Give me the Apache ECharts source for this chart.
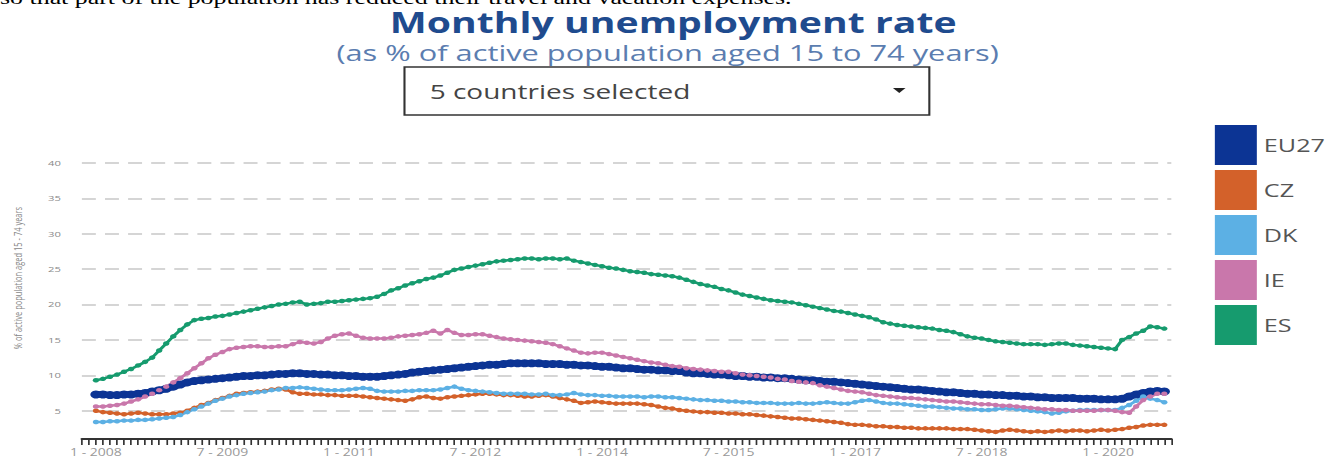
<!DOCTYPE html>
<html><head><meta charset="utf-8">
<script src="https://cdn.jsdelivr.net/npm/echarts@6/dist/echarts.min.js"></script>
<style>
html,body{margin:0;padding:0;background:#fff;overflow:hidden;width:1331px;height:461px}
#chart{width:951px;height:461px;transform:scaleX(1.3996);transform-origin:0 0}
</style></head><body><div id="chart"></div>
<script>
// ---- data ----
const seriesNames = ['EU27', 'CZ', 'DK', 'IE', 'ES'];
const startYear = 2008;
const monthCount = 153; // Jan 2008 .. Sep 2020
const xTickIndex = [0, 18, 36, 54, 72, 90, 108, 126, 144];
const xTickLabels = ['1 - 2008', '7 - 2009', '1 - 2011', '7 - 2012', '1 - 2014', '7 - 2015', '1 - 2017', '7 - 2018', '1 - 2020'];
const yTickValues = [5, 10, 15, 20, 25, 30, 35, 40];

const EU27 = [
 7.3,7.3,7.2,7.2,7.3,7.3,7.4,7.5,7.7,7.9,8.1,8.4,
 8.7,9.0,9.2,9.3,9.4,9.5,9.6,9.7,9.8,9.9,9.9,10.0,
 10.0,10.1,10.2,10.2,10.3,10.3,10.2,10.2,10.1,10.1,10.0,10.0,
 9.9,9.9,9.8,9.8,9.8,9.9,10.0,10.1,10.2,10.4,10.5,10.6,
 10.7,10.8,10.9,11.0,11.1,11.2,11.3,11.4,11.5,11.5,11.6,11.7,
 11.7,11.7,11.7,11.7,11.6,11.6,11.6,11.5,11.5,11.4,11.4,11.3,
 11.2,11.2,11.1,11.0,11.0,10.9,10.8,10.8,10.7,10.7,10.6,10.6,
 10.4,10.3,10.3,10.2,10.1,10.1,10.0,9.9,9.9,9.8,9.8,9.7,
 9.7,9.6,9.6,9.5,9.4,9.3,9.3,9.2,9.1,9.1,9.0,8.9,
 8.8,8.7,8.6,8.5,8.4,8.3,8.2,8.1,8.0,8.0,7.9,7.8,
 7.7,7.6,7.6,7.5,7.4,7.4,7.3,7.3,7.2,7.2,7.1,7.1,
 7.0,7.0,6.9,6.9,6.8,6.8,6.8,6.8,6.7,6.7,6.7,6.6,
 6.6,6.6,6.7,7.0,7.3,7.5,7.7,7.8,7.7
];
const CZ = [
 5.0,4.8,4.7,4.6,4.5,4.6,4.7,4.6,4.5,4.5,4.5,4.6,
 4.7,5.0,5.4,5.8,6.1,6.5,6.8,7.1,7.4,7.5,7.6,7.7,
 7.8,8.0,8.1,8.0,7.6,7.4,7.4,7.3,7.3,7.2,7.2,7.1,
 7.1,7.1,7.0,6.9,6.8,6.7,6.6,6.5,6.4,6.6,6.9,7.0,
 6.8,6.7,6.9,7.0,7.1,7.2,7.3,7.4,7.4,7.3,7.2,7.2,
 7.1,7.0,7.0,7.1,7.2,7.0,6.8,6.6,6.4,6.1,6.2,6.3,
 6.2,6.1,6.0,6.0,6.0,6.0,5.9,5.8,5.6,5.4,5.3,5.1,
 5.0,4.9,4.8,4.8,4.7,4.7,4.6,4.6,4.5,4.5,4.4,4.3,
 4.2,4.1,4.0,3.9,3.9,3.8,3.7,3.6,3.5,3.4,3.3,3.1,
 3.0,3.0,2.9,2.8,2.8,2.7,2.7,2.6,2.6,2.5,2.5,2.5,
 2.5,2.5,2.4,2.4,2.4,2.3,2.2,2.1,2.0,2.2,2.3,2.2,
 2.1,2.0,2.1,2.0,2.1,2.2,2.1,2.2,2.2,2.1,2.2,2.3,
 2.2,2.3,2.4,2.6,2.7,2.9,3.0,3.0,3.0
];
const DK = [
 3.4,3.4,3.5,3.5,3.6,3.6,3.7,3.7,3.8,3.9,4.0,4.1,
 4.4,4.8,5.2,5.6,6.0,6.4,6.7,7.0,7.2,7.4,7.5,7.6,
 7.7,7.9,8.0,8.2,8.2,8.3,8.2,8.1,8.0,7.9,7.9,7.9,
 8.0,8.1,8.2,8.1,7.8,7.7,7.7,7.7,7.8,7.8,7.9,7.9,
 7.9,8.0,8.2,8.4,8.1,7.9,7.8,7.7,7.6,7.5,7.4,7.4,
 7.4,7.4,7.3,7.3,7.4,7.2,7.2,7.3,7.5,7.3,7.2,7.2,
 7.1,7.1,7.0,7.0,7.0,7.0,6.9,7.0,7.0,6.9,6.9,6.8,
 6.7,6.6,6.5,6.5,6.4,6.4,6.3,6.3,6.2,6.2,6.1,6.1,
 6.1,6.0,6.0,6.0,6.1,6.0,6.0,6.1,6.2,6.1,6.0,6.0,
 6.2,6.4,6.5,6.3,6.1,6.0,6.0,5.9,5.8,5.7,5.6,5.6,
 5.5,5.4,5.3,5.3,5.2,5.2,5.1,5.1,5.2,5.3,5.3,5.2,
 5.1,5.0,4.9,4.8,4.6,4.7,4.9,5.0,5.1,5.1,5.1,5.1,
 5.1,5.1,5.4,5.8,6.4,7.0,6.7,6.5,6.2
];
const IE = [
 5.6,5.6,5.7,5.8,6.0,6.3,6.6,7.0,7.4,7.9,8.4,9.0,
 9.6,10.3,11.0,11.7,12.4,12.9,13.3,13.7,13.9,14.0,14.1,14.1,
 14.0,14.0,14.1,14.1,14.4,14.7,14.6,14.5,14.7,15.2,15.6,15.8,
 15.9,15.6,15.3,15.2,15.2,15.2,15.3,15.5,15.6,15.7,15.8,16.0,
 16.3,15.9,16.4,16.0,15.7,15.7,15.8,15.8,15.6,15.4,15.2,15.1,
 15.0,14.9,14.8,14.7,14.6,14.4,14.1,13.8,13.5,13.2,13.1,13.2,
 13.2,13.0,12.8,12.6,12.4,12.2,12.0,11.8,11.7,11.5,11.3,11.2,
 11.0,10.9,10.8,10.7,10.6,10.5,10.5,10.3,10.1,10.0,9.9,9.8,
 9.7,9.5,9.4,9.2,9.1,9.0,8.9,8.6,8.4,8.2,8.0,7.8,
 7.7,7.6,7.4,7.2,7.1,7.0,6.9,6.8,6.8,6.7,6.6,6.5,
 6.4,6.3,6.3,6.2,6.1,6.0,5.9,5.9,5.8,5.7,5.7,5.6,
 5.5,5.4,5.3,5.2,5.2,5.1,5.1,5.0,5.0,5.0,5.0,5.1,
 5.1,5.0,4.8,4.7,5.6,6.5,7.0,7.4,7.4
];
const ES = [
 9.3,9.5,9.8,10.1,10.5,10.9,11.4,11.9,12.5,13.5,14.5,15.5,
 16.4,17.2,17.8,18.0,18.1,18.3,18.4,18.6,18.8,19.0,19.2,19.4,
 19.6,19.8,20.0,20.1,20.3,20.4,20.0,20.1,20.2,20.4,20.4,20.5,
 20.6,20.7,20.8,20.9,21.1,21.5,22.0,22.3,22.7,23.0,23.3,23.6,
 23.8,24.1,24.5,24.9,25.1,25.3,25.5,25.7,25.9,26.1,26.2,26.3,
 26.4,26.5,26.5,26.4,26.5,26.5,26.4,26.5,26.2,26.0,25.8,25.6,
 25.4,25.2,25.1,24.9,24.7,24.6,24.5,24.3,24.2,24.1,24.0,23.8,
 23.5,23.2,22.9,22.7,22.5,22.2,22.0,21.7,21.4,21.2,21.0,20.8,
 20.6,20.5,20.4,20.3,20.1,19.9,19.7,19.5,19.3,19.1,19.0,18.8,
 18.6,18.4,18.2,17.9,17.5,17.3,17.1,17.0,16.9,16.8,16.7,16.6,
 16.4,16.3,16.1,15.8,15.5,15.3,15.2,15.0,14.8,14.7,14.6,14.5,
 14.4,14.4,14.4,14.3,14.4,14.5,14.5,14.3,14.2,14.1,14.0,13.9,
 13.8,13.7,15.0,15.4,15.9,16.3,16.9,16.8,16.6
];
const seriesValues = [EU27, CZ, DK, IE, ES];
const seriesColors = ['#0c3494', '#d3612a', '#5cb0e4', '#c977ab', '#169b6e'];

// ---- build ----
const labelMap = {};
xTickIndex.forEach((v, k) => { labelMap[v] = xTickLabels[k]; });

const chart = echarts.init(document.getElementById('chart'), null, {renderer: 'svg'});
const FONT = '"Open Sans", "DejaVu Sans", sans-serif';

chart.setOption({
  animation: false,
  backgroundColor: '#fff',
  grid: {left: 58.5, right: 114.1, top: 163, bottom: 22, containLabel: false},
  legend: {
    data: seriesNames,
    orient: 'vertical',
    left: 863, top: 120,
    itemWidth: 30, itemHeight: 40, itemGap: 5,
    icon: 'rect',
    textStyle: {fontFamily: FONT, fontSize: 18, color: '#555'}
  },
  xAxis: {
    type: 'value',
    min: -2, max: monthCount, interval: 1,
    splitLine: {show: false},
    axisLine: {show: true, onZero: false, lineStyle: {color: '#333', width: 2}},
    axisTick: {show: true, length: 6, lineStyle: {color: '#333', width: 1.2}},
    axisLabel: {
      customValues: xTickIndex,
      formatter: v => labelMap[v] || '',
      fontFamily: FONT, fontSize: 10, color: '#999', margin: 8
    }
  },
  yAxis: {
    type: 'value',
    min: 1, max: 40,
    axisLine: {show: false},
    axisTick: {show: false, customValues: yTickValues},
    axisLabel: {customValues: yTickValues, fontFamily: FONT, fontSize: 8, color: '#8a8a8a', margin: 15},
    splitLine: {show: true, lineStyle: {color: '#c8c8c8', width: 1.5, type: [10, 6.5]}}
  },
  series: seriesNames.map((name, k) => ({
    name: name,
    type: 'line',
    data: seriesValues[k].map((v, i) => [i, v]),
    color: seriesColors[k],
    showSymbol: true,
    showAllSymbol: true,
    symbol: 'circle',
    symbolSize: k === 0 ? 8 : 4.5,
    lineStyle: {width: k === 0 ? 6.5 : 2.5, color: seriesColors[k]},
    itemStyle: {color: seriesColors[k]},
    z: 2
  })),
  graphic: [
    {type: 'text', x: 0, y: -2, style: {text: 'so that part of the population has reduced their travel and vacation expenses.', font: '18.5px "Liberation Serif", serif', lineHeight: 12, fill: '#000', align: 'left', verticalAlign: 'middle', textAlign: 'left', textVerticalAlign: 'middle'}},
    {type: 'text', x: 481, y: 22, style: {text: 'Monthly unemployment rate', font: 'bold 28px ' + FONT, lineHeight: 26, fill: '#1f4b8e', align: 'center', verticalAlign: 'middle', textAlign: 'center', textVerticalAlign: 'middle'}},
    {type: 'text', x: 477, y: 52, style: {text: '(as % of active population aged 15 to 74 years)', font: '22px ' + FONT, lineHeight: 22, fill: '#5b7db0', align: 'center', verticalAlign: 'middle', textAlign: 'center', textVerticalAlign: 'middle'}},
    {type: 'rect', shape: {x: 289, y: 67, width: 375, height: 48}, style: {fill: '#fff', stroke: '#333', lineWidth: 1.5}},
    {type: 'text', x: 307, y: 91, style: {text: '5 countries selected', font: '20px ' + FONT, fill: '#444', align: 'left', verticalAlign: 'middle', textAlign: 'left', textVerticalAlign: 'middle'}},
    {type: 'polygon', shape: {points: [[638, 88], [647, 88], [642.5, 93]]}, style: {fill: '#222'}},
    {type: 'text', x: 13, y: 278, rotation: Math.PI / 2, style: {text: '% of active population aged 15 - 74 years', font: '7.5px ' + FONT, fill: '#888', align: 'center', verticalAlign: 'middle', textAlign: 'center', textVerticalAlign: 'middle'}}
  ]
});
</script></body></html>
